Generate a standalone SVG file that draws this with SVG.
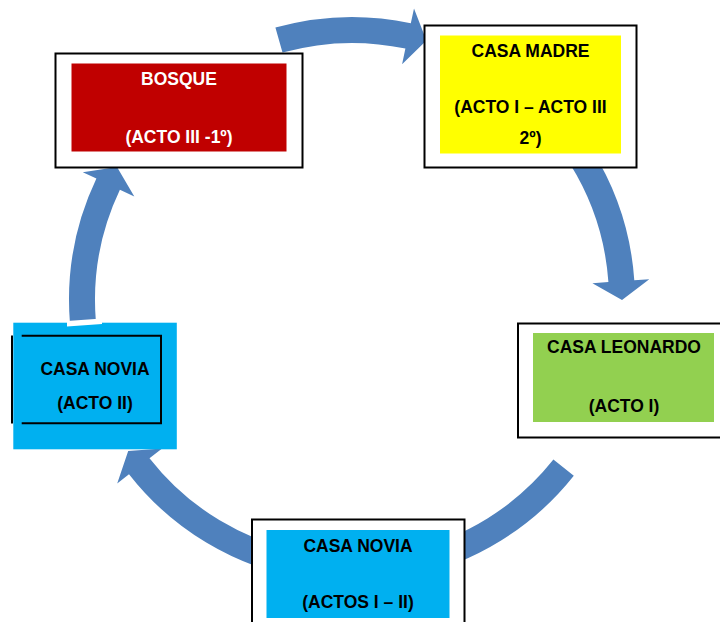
<svg xmlns="http://www.w3.org/2000/svg" width="720" height="622" viewBox="0 0 720 622">
  <style>
    .arrow { fill: #4F81BD; stroke: none; }
    .frame { fill: #FFFFFF; stroke: #000000; stroke-width: 2; }
    .line { stroke: #000000; stroke-width: 2; fill: none; }
    .lbl { font-family: "Liberation Sans", Arial, sans-serif; font-weight: bold; font-size: 17.5px; text-anchor: middle; fill: #000000; }
    .lbl-w { fill: #FFFFFF; }
  </style>
  <rect width="720" height="622" fill="#FFFFFF"/>

  <g id="connectors">
    <path class="arrow" d="M275.4,27.6 A283,283 0 0 1 410.8,23.2 L414.0,8.5 L426.4,40.4 L402.1,64.3 L405.4,48.6 A257,257 0 0 0 282.5,52.6 Z"/>
    <path class="arrow" d="M592.0,150.0 A283,283 0 0 1 634.3,280.3 L649.3,279.2 L622,300 L592.4,283.2 L608.4,282.1 A257,257 0 0 0 569.9,163.8 Z"/>
    <path class="arrow" d="M573.8,475.8 A283,283 0 0 1 410.8,576.8 L414.0,591.5 L389.6,567.4 L402.1,535.7 L405.4,551.4 A257,257 0 0 0 553.4,459.6 Z"/>
    <path class="arrow" d="M302.9,578.7 A283,283 0 0 1 129.0,474.2 L117.2,483.5 L128.2,451.0 L162.1,448.4 L149.5,458.2 A257,257 0 0 0 307.4,553.1 Z"/>
    <path class="arrow" d="M69.9,322.2 A283,283 0 0 1 96.4,178.6 L82.8,172.2 L117.0,167.1 L134.3,196.6 L119.9,189.8 A257,257 0 0 0 95.8,320.2 Z"/>
  </g>

  <g id="node-bosque">
    <rect class="frame" x="55.5" y="53.5" width="247" height="114"/>
    <rect x="71.5" y="63.5" width="215" height="88" fill="#C00000"/>
    <text class="lbl lbl-w" x="179" y="85">BOSQUE</text>
    <text class="lbl lbl-w" x="179" y="143">(ACTO III -1º)</text>
  </g>

  <g id="node-casa-madre">
    <rect class="frame" x="424.5" y="25.5" width="212" height="142"/>
    <rect x="440" y="35.5" width="181" height="118" fill="#FFFF00"/>
    <text class="lbl" x="530.5" y="57">CASA MADRE</text>
    <text class="lbl" x="530.5" y="113">(ACTO I – ACTO III</text>
    <text class="lbl" x="530.5" y="144">2º)</text>
  </g>

  <g id="node-casa-leonardo">
    <rect class="frame" x="518" y="323.5" width="206" height="114"/>
    <rect x="533" y="333" width="181" height="89" fill="#92D050"/>
    <text class="lbl" x="624" y="353">CASA LEONARDO</text>
    <text class="lbl" x="624" y="411.5">(ACTO I)</text>
  </g>

  <g id="node-casa-novia-actos">
    <rect class="frame" x="252" y="519.5" width="212.5" height="110"/>
    <rect x="266.5" y="530" width="183" height="88" fill="#00B0F0"/>
    <text class="lbl" x="358" y="551.5">CASA NOVIA</text>
    <text class="lbl" x="358" y="608">(ACTOS I – II)</text>
  </g>

  <g id="node-casa-novia-acto2">
    <rect x="13.3" y="322.7" width="163.5" height="126.6" fill="#00B0F0"/>
    <polygon points="67,321 102,318.5 102,324 67,326.5" fill="#FFFFFF"/>
    <line class="line" x1="12" y1="335.5" x2="12" y2="423.5"/>
    <polyline class="line" points="21.7,335.7 161,335.7 161,423.3 21.7,423.3"/>
    <text class="lbl" x="95" y="375">CASA NOVIA</text>
    <text class="lbl" x="95" y="409">(ACTO II)</text>
  </g>
</svg>
